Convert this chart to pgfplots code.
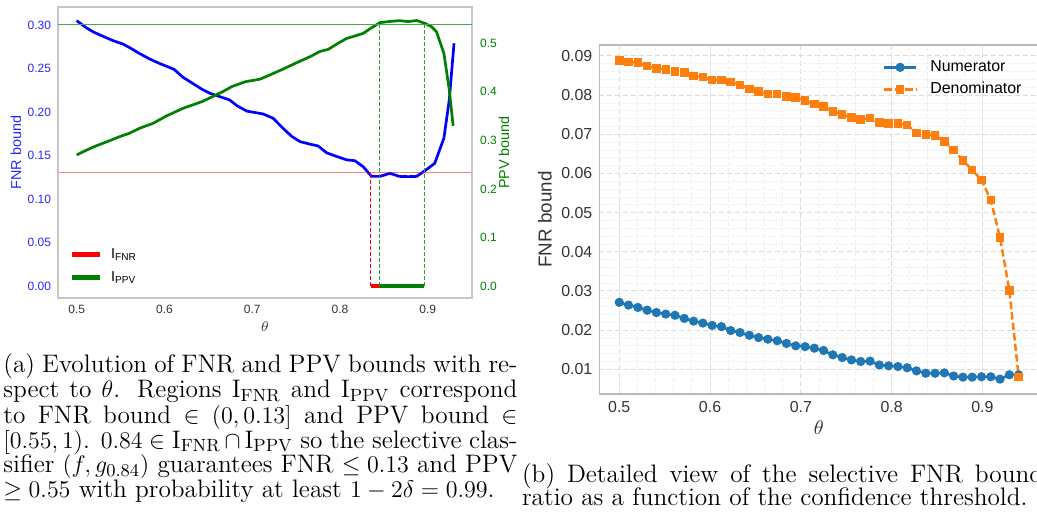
\documentclass[border=0pt]{standalone}
\usepackage{pgfplots}
\pgfplotsset{compat=1.18}
\usepackage{fontspec}
\newfontfamily\plotfont{Liberation Sans}
\definecolor{mplblue}{HTML}{1F77B4}
\definecolor{mplorange}{HTML}{FF7F0E}
\definecolor{mplgreen}{RGB}{0,128,0}
\definecolor{labblue}{RGB}{40,40,255}
\definecolor{txtgray}{RGB}{51,51,51}
\pgfplotsset{/pgf/number format/assume math mode=true}
\pgfplotsset{
  fmtone/.style={/pgf/number format/fixed, /pgf/number format/fixed zerofill, /pgf/number format/precision=1},
  fmttwo/.style={/pgf/number format/fixed, /pgf/number format/fixed zerofill, /pgf/number format/precision=2},
}

% font sizes (1 px of the reference = 0.5pt)
\newcommand\fa{\plotfont\fontsize{6}{7}\selectfont}
\newcommand\fla{\plotfont\fontsize{7.2}{8}\selectfont}
\newcommand\fb{\plotfont\fontsize{7.95}{9}\selectfont}
\newcommand\flb{\plotfont\fontsize{9.4}{10}\selectfont}
\newcommand\capfont{\fontsize{12.65}{12.4}\selectfont}
% one caption line: justified to the column width, set on its own baseline
\newcommand\capA[2]{\node[anchor=base west, inner sep=0pt] at (1.5pt,#1) {\capfont\hbox to 257pt{#2}};}
\newcommand\capB[2]{\node[anchor=base west, inner sep=0pt] at (260.85pt,#1) {\capfont\hbox to 260.5pt{#2}};}
\newcommand\capN[3]{\node[anchor=base west, inner sep=0pt] at (#1,#2) {\capfont #3};}

\begin{document}
\begin{tikzpicture}
\useasboundingbox (0,0) rectangle (518.5pt,-256pt);
\clip (0,0) rectangle (518.5pt,-256pt);

% ---------------- (a) FNR axis ----------------
\begin{axis}[
    at={(29pt,-149pt)}, anchor=south west,
    scale only axis, width=207pt, height=145.5pt,
    xmin=0.4787, xmax=0.9505, ymin=-0.0138, ymax=0.3207,
    xtick={0.5,0.6,0.7,0.8,0.9},
    ytick={0,0.05,0.10,0.15,0.20,0.25,0.30},
    major tick length=0pt,
    axis line style={gray!45, line width=0.6pt},
    xticklabel style={font=\fa, color=txtgray, fmtone},
    yticklabel style={font=\fa, color=labblue, fmttwo},
    ylabel={FNR bound},
    ylabel style={font=\fla, color=labblue, at={(axis description cs:-0.1015,0.5)}, anchor=center},
    xlabel={$\theta$},
    xlabel style={font=\fla, color=txtgray, at={(axis description cs:0.5,-0.0997)}, anchor=center},
]
\addplot[blue, line width=1.35pt] table {
0.5000 0.305
0.5106 0.297
0.519 0.292
0.530 0.287
0.5415 0.282
0.553 0.278
0.562 0.273
0.572 0.267
0.583 0.261
0.594 0.256
0.611 0.249
0.621 0.240
0.632 0.233
0.643 0.226
0.653 0.221
0.662 0.218
0.674 0.214
0.683 0.207
0.694 0.201
0.7126 0.1977
0.724 0.1927
0.7354 0.181
0.745 0.172
0.7544 0.166
0.766 0.163
0.775 0.161
0.785 0.153
0.796 0.149
0.8076 0.145
0.817 0.144
0.8266 0.137
0.836 0.126
0.8456 0.126
0.857 0.1295
0.8676 0.126
0.878 0.1257
0.8874 0.126
0.897 0.1326
0.908 0.141
0.9185 0.170
0.9246 0.214
0.930 0.279
};
\addplot[red, opacity=0.5, line width=0.6pt] coordinates {(0.4787,0.13) (0.9505,0.13)};
\addplot[red, line width=0.5pt, dash pattern=on 2pt off 1pt] coordinates {(0.835,0) (0.835,0.13)};
\addplot[red, line width=2.2pt] coordinates {(0.835,0) (0.8958,0)};
\end{axis}

% ---------------- (a) PPV axis ----------------
\begin{axis}[
    at={(29pt,-149pt)}, anchor=south west,
    scale only axis, width=207pt, height=145.5pt,
    xmin=0.4787, xmax=0.9505, ymin=-0.0247, ymax=0.5748,
    xtick=\empty,
    ytick={0,0.1,0.2,0.3,0.4,0.5},
    yticklabel pos=right,
    major tick length=0pt,
    axis line style={gray!45, line width=0.6pt},
    yticklabel style={font=\fa, color=mplgreen, xshift=0.5pt, fmtone},
    ylabel={PPV bound},
    ylabel style={font=\fla, color=mplgreen, at={(axis description cs:1.077,0.5)}, anchor=center},
    legend cell align=left,
    legend image code/.code={\draw[#1] (0pt,0pt) -- (14pt,0pt);},
    legend style={draw=none, fill=none, font=\fla, at={(axis description cs:0.0128,0.2)}, anchor=north west, row sep=1pt, column sep=2.5pt},
]
\addlegendimage{red, line width=2.2pt}
\addlegendentry{I\textsubscript{FNR}}
\addplot[mplgreen, line width=1.35pt, forget plot] table {
0.5 0.270
0.5113 0.280
0.5226 0.289
0.5377 0.2995
0.549 0.3077
0.560 0.3146
0.5717 0.325
0.5868 0.335
0.602 0.350
0.621 0.366
0.643 0.380
0.6547 0.390
0.666 0.400
0.677 0.411
0.6925 0.421
0.7088 0.426
0.720 0.4347
0.7354 0.447
0.7506 0.460
0.766 0.4725
0.777 0.483
0.7867 0.4876
0.796 0.498
0.8076 0.510
0.817 0.515
0.8266 0.5206
0.836 0.532
0.8456 0.5426
0.857 0.545
0.8676 0.5467
0.878 0.5447
0.8874 0.547
0.897 0.541
0.9045 0.534
0.910 0.524
0.9185 0.479
0.9246 0.404
0.929 0.330
};
\addplot[mplgreen!70!white, line width=0.6pt, forget plot] coordinates {(0.4787,0.539) (0.9505,0.539)};
\addplot[mplgreen!80!white, line width=0.5pt, dash pattern=on 2pt off 1pt, forget plot] coordinates {(0.8456,0) (0.8456,0.539)};
\addplot[mplgreen!80!white, line width=0.5pt, dash pattern=on 2pt off 1pt, forget plot] coordinates {(0.8958,0) (0.8958,0.539)};
\addplot[mplgreen, line width=2.2pt] coordinates {(0.8456,0) (0.8958,0)};
\addlegendentry{I\textsubscript{PPV}}
\end{axis}

% ---------------- (b) ----------------
\begin{axis}[
    at={(299.65pt,-197pt)}, anchor=south west,
    scale only axis, width=219.65pt, height=174.5pt,
    xmin=0.478, xmax=0.962, ymin=0.0037, ymax=0.0928,
    xtick={0.5,0.6,0.7,0.8,0.9},
    ytick={0.01,0.02,0.03,0.04,0.05,0.06,0.07,0.08,0.09},
    scaled y ticks=false, scaled x ticks=false,
    minor x tick num=4, minor y tick num=4,
    grid=both,
    major grid style={gray!28, line width=0.5pt, dash pattern=on 2.5pt off 1.5pt},
    minor grid style={gray!12, line width=0.4pt, dash pattern=on 2pt off 1pt},
    major tick length=0pt, minor tick length=0pt,
    axis line style={gray!55, line width=0.6pt},
    xticklabel style={font=\fb, color=txtgray, fmtone},
    yticklabel style={font=\fb, color=txtgray, fmttwo},
    ylabel={FNR bound},
    ylabel style={font=\flb, color=txtgray, at={(axis description cs:-0.1236,0.5)}, anchor=center},
    xlabel={$\theta$},
    xlabel style={font=\fontsize{10}{11}\selectfont, color=txtgray, at={(axis description cs:0.5,-0.0974)}, anchor=center},
    legend cell align=left,
    legend image code/.code={\draw[mark repeat=2, mark phase=2, #1] plot coordinates {(0pt,0pt) (8pt,0pt) (16pt,0pt)};},
    legend style={draw=none, fill=none, font=\fb, at={(axis description cs:0.631,0.98)}, anchor=north west, row sep=0pt, column sep=4.5pt},
]
\addplot[mplblue, line width=1.25pt, mark=*, mark size=1.65pt] table {
0.5000 0.0271
0.5102 0.0264
0.5205 0.0258
0.5307 0.0251
0.5409 0.0245
0.5512 0.0241
0.5614 0.0238
0.5716 0.0230
0.5819 0.0223
0.5921 0.0218
0.6023 0.0212
0.6126 0.0209
0.6228 0.0199
0.6330 0.0194
0.6433 0.0187
0.6535 0.0181
0.6637 0.0177
0.6740 0.0173
0.6842 0.0166
0.6944 0.0160
0.7047 0.0158
0.7149 0.0154
0.7251 0.0148
0.7353 0.0137
0.7456 0.0130
0.7558 0.0124
0.7660 0.0120
0.7763 0.0121
0.7865 0.0111
0.7967 0.0109
0.8070 0.0107
0.8172 0.0104
0.8274 0.0096
0.8377 0.0090
0.8479 0.0090
0.8581 0.0091
0.8684 0.0083
0.8786 0.0080
0.8888 0.0080
0.8991 0.0081
0.9093 0.0081
0.9195 0.0075
0.9298 0.0086
0.9400 0.0086
};
\addlegendentry{Numerator}
\addplot[mplorange, line width=1.25pt, dash pattern=on 3.7pt off 1.6pt, mark=square*, mark size=1.5pt, mark options={solid}] table {
0.5000 0.0888
0.5102 0.0884
0.5205 0.0883
0.5307 0.0874
0.5409 0.0868
0.5512 0.0866
0.5614 0.0860
0.5716 0.0858
0.5819 0.0849
0.5921 0.0846
0.6023 0.0839
0.6126 0.0839
0.6228 0.0833
0.6330 0.0826
0.6433 0.0816
0.6535 0.0809
0.6637 0.0803
0.6740 0.0803
0.6842 0.0796
0.6944 0.0794
0.7047 0.0786
0.7149 0.0777
0.7251 0.0771
0.7353 0.0758
0.7456 0.0751
0.7558 0.0743
0.7660 0.0738
0.7763 0.0741
0.7865 0.0730
0.7967 0.0728
0.8070 0.0727
0.8172 0.0724
0.8274 0.0703
0.8377 0.0700
0.8479 0.0697
0.8581 0.0681
0.8684 0.0660
0.8786 0.0633
0.8888 0.0609
0.8991 0.0583
0.9093 0.0532
0.9195 0.0436
0.9298 0.0301
0.9400 0.0081
};
\addlegendentry{Denominator}
\end{axis}

% ---------------- captions ----------------
\capA{-186.5pt}{(a) Evolution of FNR and PPV bounds with re-}
\capA{-199pt}{spect to $\theta$. Regions $\mathrm{I}_{\mathrm{FNR}}$ and $\mathrm{I}_{\mathrm{PPV}}$ correspond}
\capA{-211.5pt}{to FNR bound $\in$ $(0, 0.13]$ and PPV bound $\in$}
\capA{-224pt}{$[0.55, 1)$. $0.84 \in \mathrm{I}_{\mathrm{FNR}}\cap\mathrm{I}_{\mathrm{PPV}}$ so the selective clas-}
\capA{-236.25pt}{sifier $(f, g_{0.84})$ guarantees FNR $\leq 0.13$ and PPV}
\capN{1.5pt}{-248.5pt}{$\geq 0.55$ with probability at least $1-2\delta=0.99$.}
\capB{-241pt}{(b) Detailed view of the selective FNR bound}
\capN{260.85pt}{-252.5pt}{ratio as a function of the confidence threshold.}
\end{tikzpicture}
\end{document}
